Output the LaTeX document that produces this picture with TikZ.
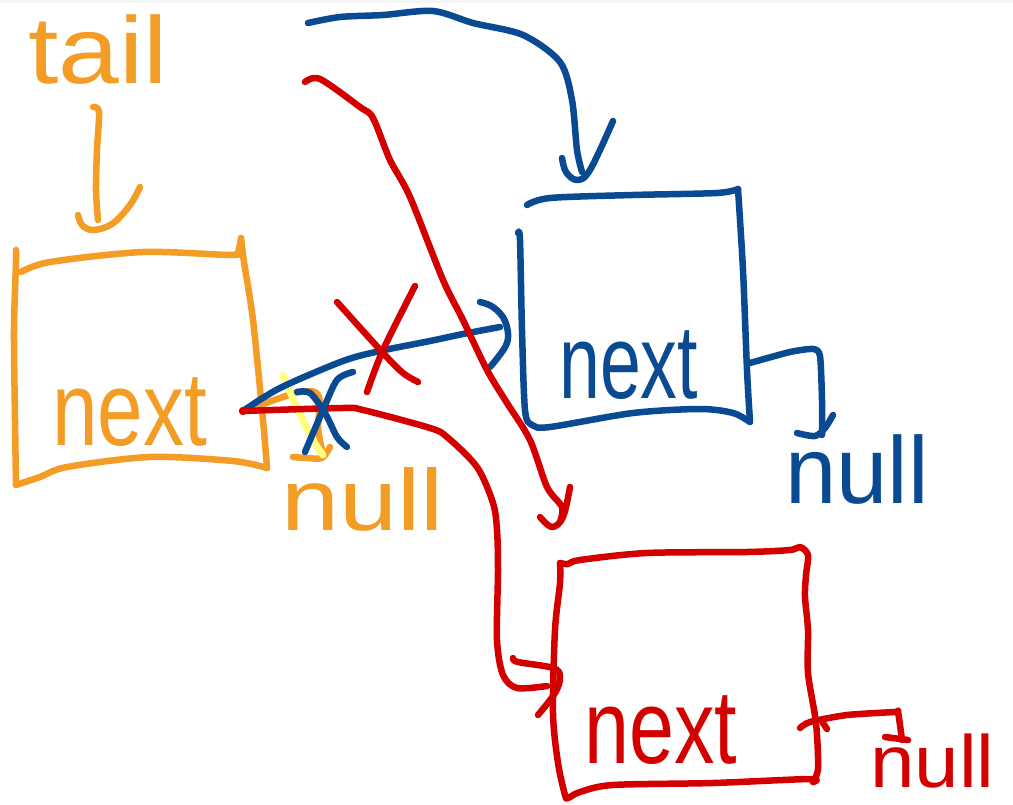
\documentclass[tikz,border=0pt]{standalone}
\usepackage{fontspec}
\setmainfont{Liberation Sans}
\definecolor{penorange}{HTML}{F39C26}
\definecolor{penblue}{HTML}{0A4A92}
\definecolor{penred}{HTML}{D40000}
\definecolor{penyellow}{HTML}{FFFF80}
\begin{document}
\begin{tikzpicture}[x=1pt,y=-1pt,line cap=round,line join=round,
  pen/.style={line width=6.5pt},
  opn/.style={pen,draw=penorange},
  bpn/.style={pen,draw=penblue},
  rpn/.style={pen,draw=penred},
  hl/.style={line width=7pt,draw=penyellow},
  hand/.style={inner sep=0pt,anchor=base west},
  big/.style={font=\fontsize{105}{105}\selectfont},
  mid/.style={font=\fontsize{95}{95}\selectfont}]
\useasboundingbox (0,0) rectangle (1013,805);
\fill[white] (0,0) rectangle (1013,805);
\fill[black!4] (0,0) rectangle (1013,3);

% pointer origins and targets
\coordinate (onP) at (243,411);
\coordinate (bnP) at (750,363);
\coordinate (rnP) at (800,728);
\coordinate (bTop) at (582,172);
\coordinate (bIn) at (500,327);
\coordinate (rTop) at (560,522);
\coordinate (rIn) at (547,686);

% labels
\node[hand,mid,text=penorange,xscale=1.15] (tailtxt) at (28,84) {tail};
\node[hand,big,text=penorange,xscale=0.78] (onext) at (52,445) {next};
\node[hand,big,text=penblue,xscale=0.70] (bnext) at (559,398) {next};
\node[hand,big,text=penred,xscale=0.77] (rnext) at (584,763) {next};
\node[hand,mid,text=penblue,xscale=0.97] (bnull) at (785,503) {null};
\node[hand,font=\fontsize{87}{87}\selectfont,text=penorange,xscale=1.2] (onull) at (281,530) {null};
\node[hand,font=\fontsize{74}{74}\selectfont,text=penred,xscale=1.08] (rnull) at (870,787) {null};

% ---------- orange: tail node ----------
\draw[opn] plot[smooth,tension=0.5] coordinates {(93,107) (99,112) (97,150) (96,190) (98,220)};
\draw[opn] plot[smooth,tension=0.6] coordinates {(78,215) (82,225) (93,230) (112,224) (130,205) (140,187)};
% box
\draw[opn] plot[smooth,tension=0.5] coordinates {(21,272) (50,262) (143,252) (230,255) (238,252) (241,238)};
\draw[opn] plot[smooth,tension=0.5] coordinates {(241,238) (244,262) (253,320) (263,420) (267,468)};
\draw[opn] plot[smooth,tension=0.5] coordinates {(267,468) (233,461) (150,457) (67,467) (40,477) (16,485)};
\draw[opn] plot[smooth,tension=0.5] coordinates {(16,485) (15,420) (14,330) (16,262) (16,250)};
% old next pointer to null
\draw[opn] plot[smooth,tension=0.5] coordinates {(onP) (283,397) (300,392) (315,392) (320,402) (318,427) (322,450)};
\draw[opn] plot[smooth,tension=0.5] coordinates {(293,457) (307,458) (322,458) (330,447)};
\draw[hl] plot[smooth,tension=0.5] coordinates {(283,375) (298,410) (313,440) (323,455)};

% ---------- blue node ----------
\draw[bpn] plot[smooth,tension=0.5] coordinates {(308,23) (340,17) (383,15) (433,11) (473,23) (523,35) (560,62) (572,100) (577,150) (bTop)};
\draw[bpn] plot[smooth,tension=0.6] coordinates {(562,158) (566,172) (577,180) (590,170) (613,121)};
\draw[bpn] plot[smooth,tension=0.5] coordinates {(527,205) (550,198) (633,195) (717,193) (738,189)};
\draw[bpn] plot[smooth,tension=0.5] coordinates {(738,189) (743,270) (747,370) (750,422)};
\draw[bpn] plot[smooth,tension=0.5] coordinates {(750,422) (733,413) (700,409) (633,413) (550,427) (532,425) (525,410) (522,330) (520,240) (518,233)};
% next pointer into blue node
\draw[bpn] plot[smooth,tension=0.5] coordinates {(onP) (280,388) (343,361) (380,351) (430,341) (463,334) (bIn)};
\draw[bpn] plot[smooth,tension=0.6] coordinates {(480,302) (493,307) (505,321) (507,343) (490,367)};
% blue next to null
\draw[bpn] plot[smooth,tension=0.4] coordinates {(bnP) (790,352) (813,349) (820,356) (822,400) (822,435)};
\draw[bpn] plot[smooth,tension=0.5] coordinates {(797,433) (815,436) (825,428) (833,415)};

% ---------- red node ----------
\draw[rpn] plot[smooth,tension=0.5] coordinates {(305,82) (320,79) (360,107) (373,118) (390,160) (410,197) (443,280) (463,320) (487,370) (507,403) (530,440) (547,487) (562,507) (rTop)};
\draw[rpn] plot[smooth,tension=0.6] coordinates {(540,517) (552,527) (563,517) (570,487)};
% strike-through of the old pointer
\draw[rpn] plot[smooth,tension=0.5] coordinates {(337,302) (383,353) (403,373) (418,382)};
\draw[rpn] plot[smooth,tension=0.5] coordinates {(415,286) (383,350) (367,392)};
% box
\draw[rpn] plot[smooth,tension=0.5] coordinates {(560,563) (568,564) (580,560) (647,553) (747,552) (790,550) (800,547) (808,555) (806,575) (805,597) (808,630) (808,673) (816,723) (818,768) (813,782)};
\draw[rpn] plot[smooth,tension=0.5] coordinates {(813,782) (810,779) (713,783) (613,785) (580,792) (568,798) (565,795) (558,763) (553,713) (555,630) (560,583) (560,563)};
% new next pointer into red node
\draw[rpn] plot[smooth,tension=0.5] coordinates {(onP) (343,408) (363,410) (430,428) (447,437) (477,467) (493,503) (497,530) (498,570) (497,640) (503,675) (517,688) (rIn)};
\draw[rpn] plot[smooth,tension=0.6] coordinates {(513,658) (518,662) (553,668) (560,677) (555,693) (538,715)};
% red next to null
\draw[rpn] plot[smooth,tension=0.4] coordinates {(rnP) (810,722) (847,715) (895,712) (898,712) (902,740)};
\draw[rpn] (885,737) -- (908,740);
\draw[rpn] (823,723) -- (827,729);

% strike-through of the null pointer
\draw[bpn] plot[smooth,tension=0.5] coordinates {(297,392) (310,393) (325,413) (337,437) (347,447)};
\draw[bpn] plot[smooth,tension=0.5] coordinates {(353,372) (337,380) (323,410) (305,452)};
\fill[penred] (onP) circle (4.2pt);
\end{tikzpicture}
\end{document}
